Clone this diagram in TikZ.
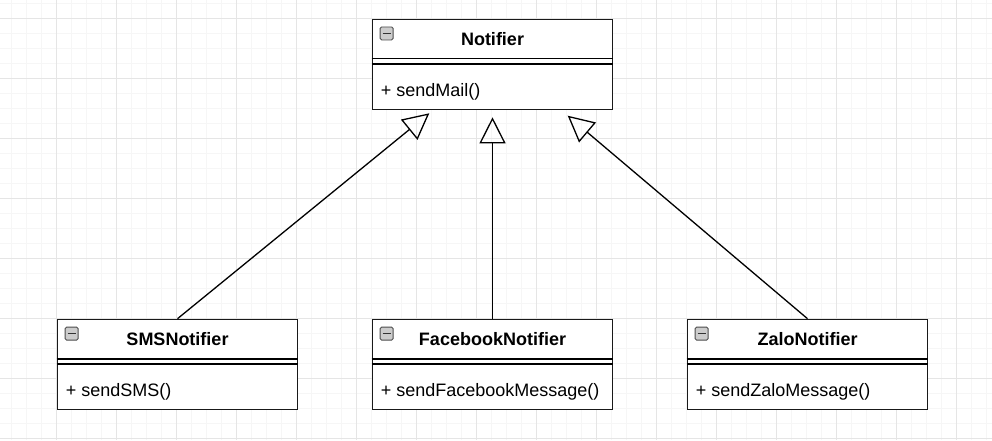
\documentclass[tikz,border=0pt]{standalone}
\usepackage{fontspec}
\setmainfont{Liberation Sans}
\usetikzlibrary{arrows.meta}

\tikzset{
  classbox/.style={draw=black!90, line width=1.6pt, fill=white, minimum width=240pt, minimum height=90pt, inner sep=0pt},
  titletext/.style={font=\fontsize{18}{21}\selectfont\bfseries, inner sep=0pt},
  methodtext/.style={font=\fontsize{18}{21}\selectfont, inner sep=0pt},
  minusbox/.style={draw=gray!60!black, fill=gray!40, rounded corners=1.5pt, minimum size=13pt, inner sep=0pt, line width=0.8pt},
  inherit/.style={line width=1.3pt, -{Triangle[open, length=26pt, width=26pt]}}
}

% one UML class: name, centre, title, method
\newcommand{\umlclass}[4]{
  \node[classbox] (#1) at (#2) {};
  \draw[line width=1.6pt] ([yshift=-40pt]#1.north west) -- ([yshift=-40pt]#1.north east);
  \draw[line width=1.6pt] ([yshift=-45.5pt]#1.north west) -- ([yshift=-45.5pt]#1.north east);
  \node[titletext, anchor=base] (#1-title) at ([yshift=-27pt]#1.north) {#3};
  \node[methodtext, anchor=base west] (#1-ops) at ([xshift=9pt, yshift=-78pt]#1.north west) {#4};
  \node[minusbox, anchor=north west] (#1-icon) at ([xshift=8pt, yshift=-8pt]#1.north west) {};
  \draw[line width=1.4pt, black!80] ([xshift=3pt]#1-icon.west) -- ([xshift=-3pt]#1-icon.east);
}

\begin{document}
\begin{tikzpicture}[x=1pt, y=-1pt]

    \useasboundingbox[fill=white] (0,0) rectangle (992,440);

    % grid
    \foreach \x in {11.3,26.3,...,992} \draw[gray!7, line width=0.8pt] (\x,0) -- (\x,440);
    \foreach \y in {3.3,18.3,...,440} \draw[gray!7, line width=0.8pt] (0,\y) -- (992,\y);
    \foreach \x in {56.3,116.3,...,992} \draw[gray!20, line width=0.8pt] (\x,0) -- (\x,440);
    \foreach \y in {18.3,78.3,...,440} \draw[gray!20, line width=0.8pt] (0,\y) -- (992,\y);

    \umlclass{notifier}{492.5,64.3}{Notifier}{+ sendMail()}
    \umlclass{sms}{177.5,364.5}{SMSNotifier}{+ sendSMS()}
    \umlclass{facebook}{492.5,364.5}{FacebookNotifier}{+ sendFacebookMessage()}
    \umlclass{zalo}{807.5,364.5}{ZaloNotifier}{+ sendZaloMessage()}

    \coordinate (tipL) at (429.3,113.3);
    \coordinate (tipC) at (492.5,117.3);
    \coordinate (tipR) at (567.7,115.7);

    \draw[inherit] (sms.north) -- (tipL);
    \draw[inherit] (facebook.north) -- (tipC);
    \draw[inherit] (zalo.north) -- (tipR);

\end{tikzpicture}
\end{document}
